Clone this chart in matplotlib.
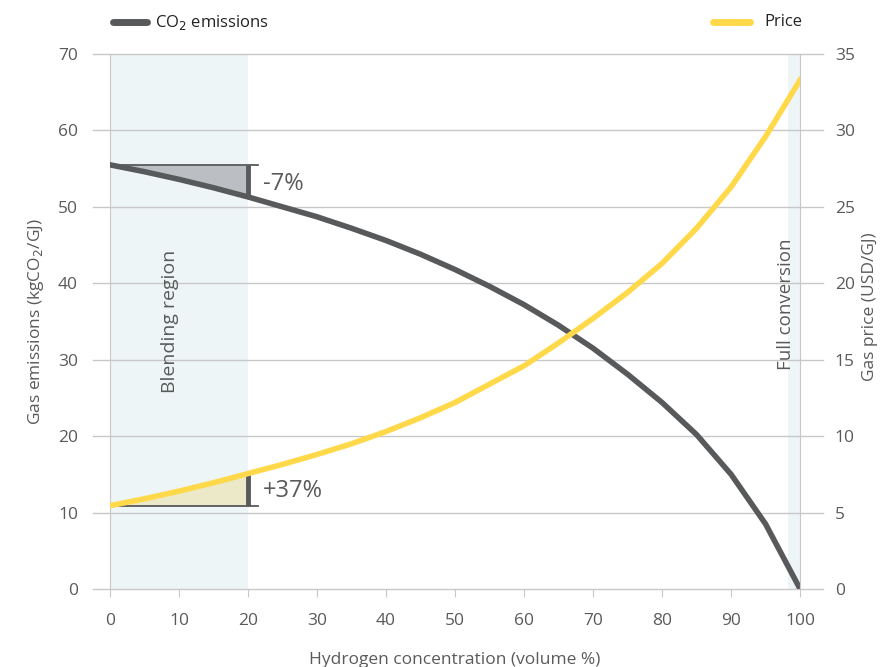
import numpy as np
import matplotlib.pyplot as plt
from matplotlib.lines import Line2D

plt.rcParams['font.family'] = ['Open Sans', 'DejaVu Sans']

# hydrogen share (volume %) and the two series
h2_share = [0, 5, 10, 15, 20, 25, 30, 35, 40, 45, 50,
            55, 60, 65, 70, 75, 80, 85, 90, 95, 100]
emissions = [55.5, 54.6, 53.6, 52.5, 51.3, 50.0, 48.7, 47.2, 45.6, 43.8, 41.8,
             39.6, 37.2, 34.5, 31.5, 28.1, 24.4, 20.2, 15.0, 8.5, 0.0]
price = [5.45, 5.9, 6.4, 6.95, 7.55, 8.15, 8.8, 9.5, 10.3, 11.2, 12.2,
         13.4, 14.6, 16.1, 17.7, 19.4, 21.3, 23.6, 26.3, 29.6, 33.3]

x_ticks = list(range(0, 101, 10))
left_ticks = list(range(0, 71, 10))
right_ticks = list(range(0, 36, 5))

dark = '#58595b'
yellow = '#ffd94a'
grey_txt = '#5a5a5a'
grid_c = '#c8c8c8'

fig = plt.figure(figsize=(8.87, 6.67), dpi=100)
ax = fig.add_axes([0.124, 0.117, 0.778, 0.802])
ax2 = ax.twinx()

# shaded regions
ax.axvspan(0, 20, color='#eef5f7', zorder=0, lw=0)
ax.axvspan(98.3, 100, color='#eef5f7', zorder=0, lw=0)

for t in left_ticks:
    ax.plot([-2.5, 100], [t, t], color=grid_c, lw=1, clip_on=False, zorder=1)
for t in right_ticks:
    ax2.plot([100, 103.3], [t, t], color=grid_c, lw=1, clip_on=False, zorder=1)

# -7% triangle on emissions
x = np.array(h2_share)
e = np.array(emissions)
p = np.array(price)
m = x <= 20
ax.fill_between(x[m], e[m], emissions[0], color='#bbbec2', lw=0, zorder=2)
ax.plot([0, 21.5], [emissions[0], emissions[0]], color=dark, lw=1.3, zorder=3)
ax.plot([20, 20], [e[m][-1], emissions[0]], color=dark, lw=3.5, zorder=3,
        solid_capstyle='butt')
ax.text(22.2, 53.0, '-7%', fontsize=17, color=grey_txt, va='center', ha='left')

ax.plot(x, e, color=dark, lw=4, zorder=4, solid_joinstyle='round')

# +37% triangle on price
ax2.fill_between(x[m], p[m], price[0], color='#ece9c8', lw=0, zorder=2)
ax2.plot([0, 21.5], [price[0], price[0]], color=dark, lw=1.3, zorder=3)
ax2.plot([20, 20], [price[0], p[m][-1]], color=dark, lw=3.5, zorder=3,
         solid_capstyle='butt')
ax2.text(22.2, 6.4, '+37%', fontsize=17, color=grey_txt, va='center', ha='left')
ax2.plot(x, p, color=yellow, lw=4, zorder=4, solid_joinstyle='round')

ax.text(8.7, 35.0, 'Blending region', rotation=90, fontsize=14,
        color=grey_txt, ha='center', va='center')
ax.text(98.0, 37.3, 'Full conversion', rotation=90, fontsize=13.5,
        color=grey_txt, ha='center', va='center')

ax.set_xlim(0, 100)
ax.set_ylim(0, 70)
ax2.set_ylim(0, 35)
ax.set_xticks(x_ticks)
ax.set_yticks(left_ticks)
ax2.set_yticks(right_ticks)

for a in (ax, ax2):
    for s in a.spines.values():
        s.set_visible(False)
ax.spines['left'].set_visible(True)
ax.spines['left'].set_color(grid_c)
ax2.spines['right'].set_visible(True)
ax2.spines['right'].set_color(grid_c)
ax.tick_params(axis='y', length=0, pad=23, labelsize=12.5, labelcolor=grey_txt)
ax2.tick_params(axis='y', length=0, pad=25, labelsize=12.5, labelcolor=grey_txt)
ax.tick_params(axis='x', length=6, color=grid_c, pad=11, labelsize=12.5,
               labelcolor=grey_txt)
ax.patch.set_visible(False)

ax.set_xlabel('Hydrogen concentration (volume %)', fontsize=12.5,
              color=grey_txt, labelpad=17)
ax.set_ylabel('Gas emissions (kgCO$_2$/GJ)', fontsize=12.5, color=grey_txt,
              labelpad=9)
fig.text(0.981, 0.54, 'Gas price (USD/GJ)', rotation=90, fontsize=12.5,
         color=grey_txt, ha='center', va='center')

# legend at the top
fig.add_artist(Line2D([0.127, 0.166], [0.967, 0.967], color=dark, lw=5,
                      solid_capstyle='round'))
fig.text(0.175, 0.967, 'CO$_2$ emissions', fontsize=12, color='#222222',
         va='center')
fig.add_artist(Line2D([0.804, 0.845], [0.967, 0.967], color=yellow, lw=5,
                      solid_capstyle='round'))
fig.text(0.862, 0.967, 'Price', fontsize=12, color='#222222', va='center')

fig.savefig('out.png', dpi=100)
